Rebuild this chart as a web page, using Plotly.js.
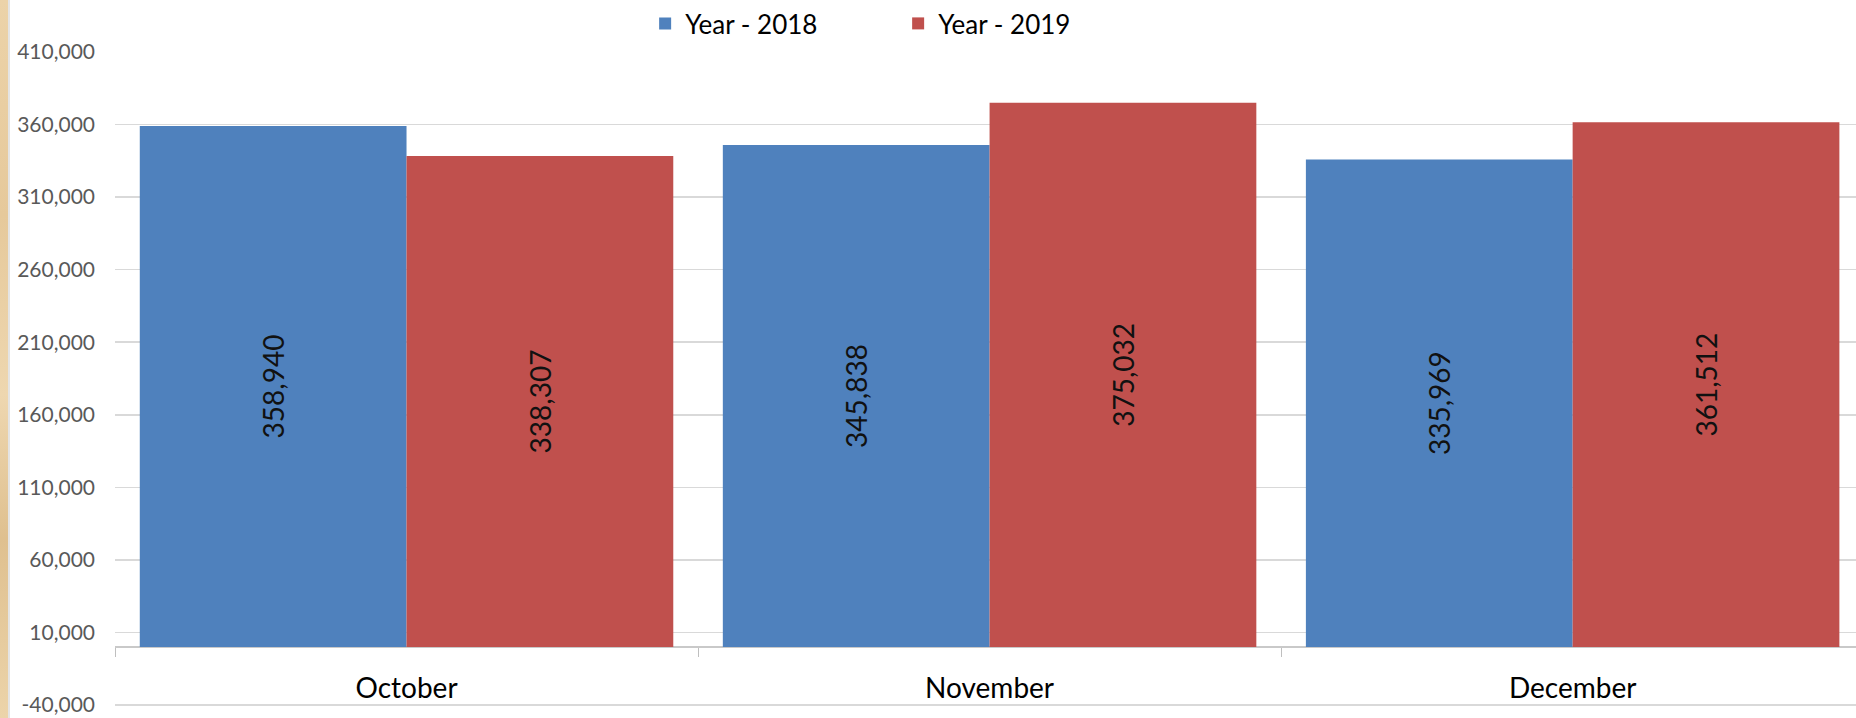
<!DOCTYPE html>
<html>
<head>
<meta charset="utf-8">
<script src="https://cdn.plot.ly/plotly-3.0.1.min.js"></script>
<style>
  html, body { margin: 0; padding: 0; width: 1856px; height: 718px; overflow: hidden;
    background: linear-gradient(180deg, #ecd3a9 0%, #e6c99b 30%, #eed7b0 55%, #dfc08f 75%, #ecd4aa 100%); }
  #edge { position: absolute; left: 8px; top: 0; width: 2px; height: 718px; background: #e4e4e4; }
  #chart { position: absolute; left: 10px; top: 0; width: 1846px; height: 718px; background: #fff; }
</style>
</head>
<body>
<div id="edge"></div>
<div id="chart"></div>
<script>
const categories = ['October', 'November', 'December'];
const year2018 = [358940, 345838, 335969];
const year2019 = [338307, 375032, 361512];
const seriesNames = ['Year - 2018', 'Year - 2019'];
const yTickVals = [-40000, 10000, 60000, 110000, 160000, 210000, 260000, 310000, 360000, 410000];
const yTickText = ['-40,000', '10,000', '60,000', '110,000', '160,000', '210,000', '260,000', '310,000', '360,000', '410,000'];

const FONT = 'Lato, "Open Sans", sans-serif';

function barTrace(name, values, color) {
  return {
    type: 'bar',
    name: name,
    x: categories,
    y: values,
    marker: { color: color, line: { width: 0 } },
    text: values.map(v => v.toLocaleString('en-US')),
    textposition: 'inside',
    insidetextanchor: 'middle',
    textangle: -90,
    constraintext: 'none',
    insidetextfont: { family: FONT, size: 28, color: '#111111' },
    hoverinfo: 'x+y+name'
  };
}

const data = [
  barTrace(seriesNames[0], year2018, '#4f81bd'),
  barTrace(seriesNames[1], year2019, '#c0504d')
];

const yMin = -40700, yMax = 410000;
const plotH = 718 - 48 - 12;

const layout = {
  width: 1846,
  height: 718,
  margin: { l: 105, r: 0, t: 48, b: 12, pad: 0 },
  paper_bgcolor: '#ffffff',
  plot_bgcolor: '#ffffff',
  font: { family: FONT, color: '#000000' },
  barmode: 'group',
  bargap: 0.085,
  bargroupgap: 0,
  showlegend: true,
  legend: {
    orientation: 'h',
    x: 0.3045,
    xanchor: 'left',
    y: 1 + (48 - 19) / plotH,
    yanchor: 'middle',
    font: { family: FONT, size: 26, color: '#000000' },
    entrywidth: 208,
    entrywidthmode: 'pixels',
    itemwidth: 30,
    bgcolor: 'rgba(0,0,0,0)',
    borderwidth: 0
  },
  xaxis: {
    type: 'category',
    range: [-0.5, 2.486],
    anchor: 'free',
    position: (0 - yMin) / (yMax - yMin),
    showgrid: false,
    showline: false,
    zeroline: false,
    ticks: 'outside',
    tickson: 'boundaries',
    ticklen: 9,
    tickwidth: 1,
    tickcolor: '#bfbfbf',
    tickfont: { family: FONT, size: 28, color: '#000000' },
    ticklabelstandoff: 22,
    fixedrange: true
  },
  yaxis: {
    range: [yMin, yMax],
    tickmode: 'array',
    tickvals: yTickVals,
    ticktext: yTickText,
    showgrid: true,
    gridcolor: '#d9d9d9',
    gridwidth: 1.5,
    zeroline: true,
    zerolinecolor: '#c9c9c9',
    zerolinewidth: 1.5,
    showline: false,
    ticks: '',
    ticklabelstandoff: 19,
    tickfont: { family: FONT, size: 21, color: '#595959' },
    fixedrange: true
  }
};

Plotly.newPlot('chart', data, layout, { displayModeBar: false, staticPlot: true });
</script>
</body>
</html>
